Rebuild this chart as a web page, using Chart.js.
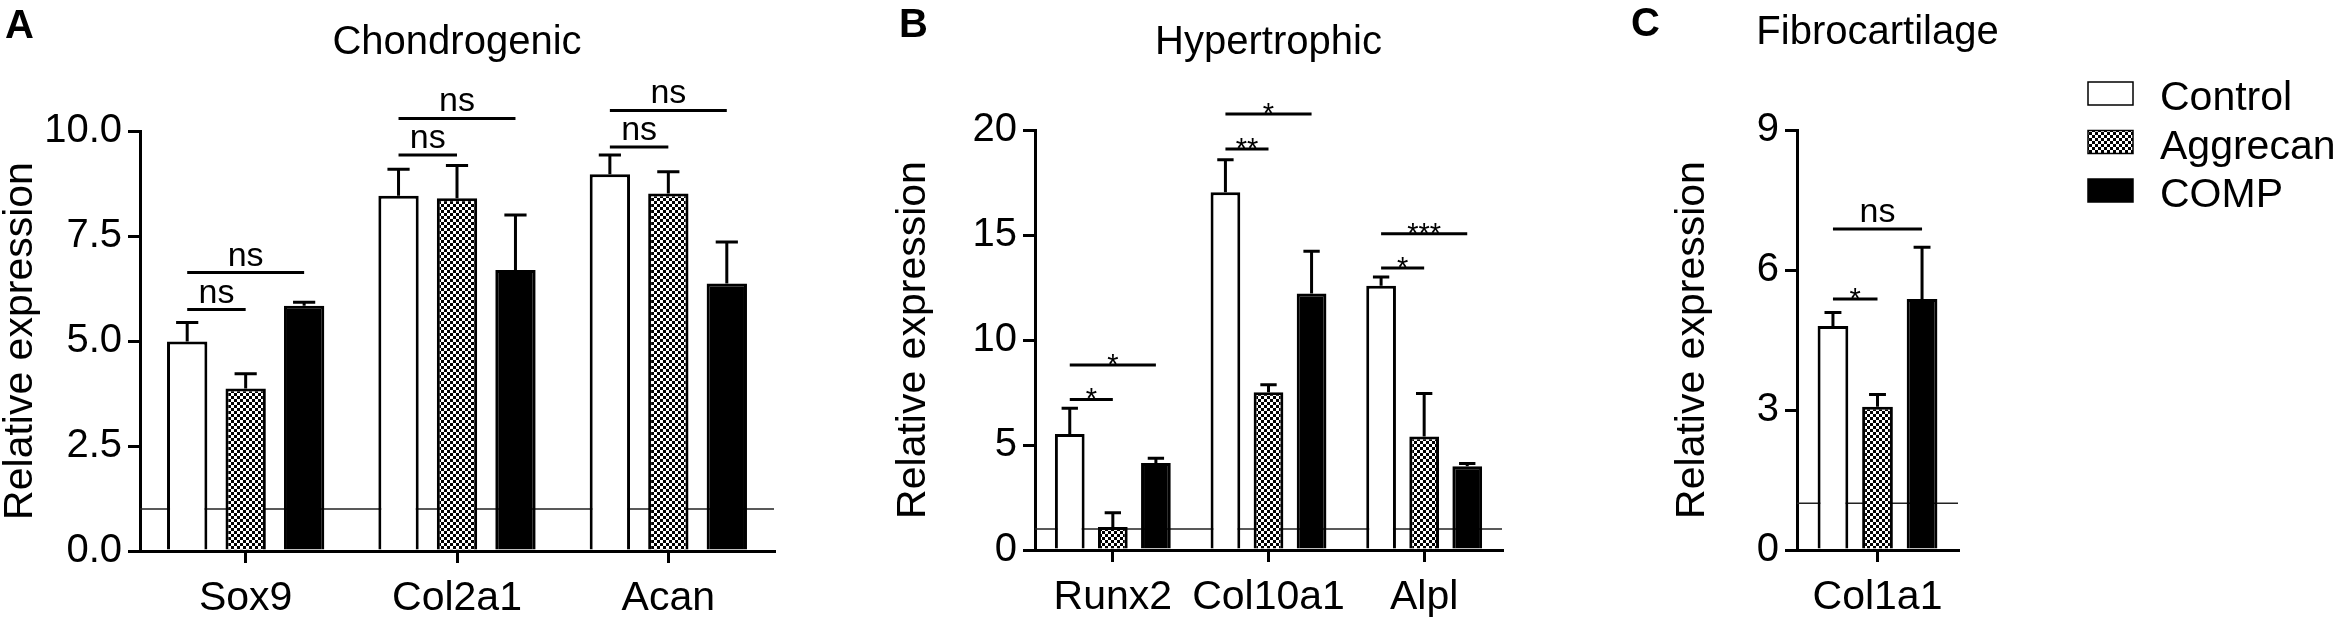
<!DOCTYPE html>
<html>
<head>
<meta charset="utf-8">
<script src="https://cdn.jsdelivr.net/npm/chart.js@4.4.1/dist/chart.umd.min.js"></script>
<style>
html, body { margin: 0; padding: 0; background: #fff; }
body { width: 2337px; height: 621px; position: relative; overflow: hidden; }
.panel { position: absolute; top: 0; height: 621px; }
</style>
</head>
<body>
<div class="panel" style="left:0;width:780px"><canvas id="chartA"></canvas></div>
<div class="panel" style="left:880px;width:640px"><canvas id="chartB"></canvas></div>
<div class="panel" style="left:1600px;width:737px"><canvas id="chartC"></canvas></div>
<script>
// groups
const groups = ["Control", "Aggrecan", "COMP"];

// A - chondrogenic
const genesA = ["Sox9", "Col2a1", "Acan"];
const controlA = [4.99, 8.46, 8.97];
const aggrecanA = [3.87, 8.40, 8.51];
const compA = [5.84, 6.69, 6.37];
const controlSdA = [0.45, 0.63, 0.46];
const aggrecanSdA = [0.35, 0.78, 0.52];
const compSdA = [0.08, 1.31, 0.99];
const ticksA = [0, 2.5, 5, 7.5, 10];
// [gene, from group, to group, height, label]
const sigA = [[0, 0, 1, 5.75, "ns"], [0, 0, 2, 6.63, "ns"],
              [1, 0, 1, 9.43, "ns"], [1, 0, 2, 10.3, "ns"],
              [2, 0, 1, 9.62, "ns"], [2, 0, 2, 10.49, "ns"]];

// B - hypertrophic
const genesB = ["Runx2", "Col10a1", "Alpl"];
const controlB = [5.52, 17.03, 12.58];
const aggrecanB = [1.10, 7.51, 5.40];
const compB = [4.14, 12.22, 3.99];
const controlSdB = [1.23, 1.55, 0.42];
const aggrecanSdB = [0.67, 0.36, 2.05];
const compSdB = [0.23, 2.01, 0.13];
const ticksB = [0, 5, 10, 15, 20];
const sigB = [[0, 0, 1, 7.17, "*"], [0, 0, 2, 8.81, "*"],
              [1, 0, 1, 19.1, "**"], [1, 0, 2, 20.76, "*"],
              [2, 0, 1, 13.43, "*"], [2, 0, 2, 15.06, "***"]];

// C - fibrocartilage
const genesC = ["Col1a1"];
const controlC = [4.80];
const aggrecanC = [3.07];
const compC = [5.38];
const controlSdC = [0.29];
const aggrecanSdC = [0.26];
const compSdC = [1.11];
const ticksC = [0, 3, 6, 9];
const sigC = [[0, 0, 1, 5.38, "*"], [0, 0, 2, 6.88, "ns"]];

const baseline = 1;

const FONT = '"Liberation Sans", Arial, sans-serif';
Chart.defaults.font.family = FONT;
Chart.defaults.color = "#000";

function checker() {
  const c = document.createElement("canvas");
  c.width = 6; c.height = 6;
  const g = c.getContext("2d");
  g.fillStyle = "#000"; g.fillRect(0, 0, 6, 6);
  g.fillStyle = "#fff"; g.fillRect(0, 0, 3, 3); g.fillRect(3, 3, 3, 3);
  return g.createPattern(c, "repeat");
}
const fills = ["#fff", checker(), "#000"];

function makeDecor(p) {
  return {
    id: "decor",
    beforeDatasetsDraw(chart) {
      const { ctx, chartArea: a, scales: { y } } = chart;
      const py = y.getPixelForValue(baseline);
      ctx.save();
      ctx.strokeStyle = "#222";
      ctx.lineWidth = 1.5;
      ctx.beginPath();
      ctx.moveTo(a.left, py);
      ctx.lineTo(a.right, py);
      ctx.stroke();
      ctx.restore();
    },
    afterDatasetsDraw(chart) {
      const { ctx, scales: { y } } = chart;
      ctx.save();
      ctx.strokeStyle = "#000";
      ctx.fillStyle = "#000";
      ctx.lineWidth = 3;
      // error bars (upper only)
      chart.data.datasets.forEach((ds, i) => {
        chart.getDatasetMeta(i).data.forEach((bar, j) => {
          const top = y.getPixelForValue(ds.data[j] + ds.sd[j]);
          const cw = bar.width * 0.55;
          ctx.beginPath();
          ctx.moveTo(bar.x, bar.y);
          ctx.lineTo(bar.x, top);
          ctx.moveTo(bar.x - cw / 2, top);
          ctx.lineTo(bar.x + cw / 2, top);
          ctx.stroke();
        });
      });
      // significance lines
      p.sig.forEach(([cat, g1, g2, v, text]) => {
        const x1 = chart.getDatasetMeta(g1).data[cat].x;
        const x2 = chart.getDatasetMeta(g2).data[cat].x;
        const py = y.getPixelForValue(v);
        ctx.beginPath();
        ctx.moveTo(x1, py);
        ctx.lineTo(x2, py);
        ctx.stroke();
        const star = text.includes("*");
        ctx.font = (star ? "29px " : "34px ") + FONT;
        ctx.textAlign = "center";
        ctx.textBaseline = "alphabetic";
        ctx.fillText(text, (x1 + x2) / 2, star ? py + 9 : py - 7);
      });
      ctx.restore();
    },
    afterDraw(chart) {
      const { ctx, chartArea: a } = chart;
      ctx.save();
      ctx.fillStyle = "#000";
      ctx.textBaseline = "alphabetic";
      ctx.textAlign = "center";
      ctx.font = "40px " + FONT;
      ctx.fillText(p.title, (a.left + a.right) / 2, p.titleY);
      ctx.textAlign = "left";
      ctx.font = "bold 40px " + FONT;
      ctx.fillText(p.letter, p.letterX, p.letterY);
      if (p.legend) {
        ctx.font = "41px " + FONT;
        chart.data.datasets.forEach((ds, i) => {
          const top = 82 + i * 48.5;
          ctx.fillStyle = ds.backgroundColor;
          ctx.fillRect(488, top, 45, 23);
          ctx.strokeStyle = "#000";
          ctx.lineWidth = 1.5;
          ctx.strokeRect(488, top, 45, 23);
          ctx.fillStyle = "#000";
          ctx.fillText(ds.label, 560, top + 28);
        });
      }
      ctx.restore();
    }
  };
}

function makeChart(id, p) {
  return new Chart(document.getElementById(id), {
    type: "bar",
    data: {
      labels: p.labels,
      datasets: groups.map((g, i) => ({
        label: g,
        data: p.values[i],
        sd: p.sds[i],
        backgroundColor: fills[i],
        borderColor: "#000",
        borderWidth: 3,
        categoryPercentage: 0.83,
        barPercentage: 0.69
      }))
    },
    options: {
      responsive: true,
      maintainAspectRatio: false,
      animation: false,
      layout: { padding: { left: p.padLeft, right: p.padRight, top: p.top, bottom: 0 } },
      plugins: { legend: { display: false }, tooltip: { enabled: false } },
      scales: {
        x: {
          offset: true,
          z: 1,
          grid: { offset: false, drawOnChartArea: false, drawTicks: true, tickLength: 12, lineWidth: 3, color: "#000" },
          border: { display: true, width: 3, color: "#000" },
          ticks: { font: { size: 41 }, padding: 11, maxRotation: 0, autoSkip: false },
          afterFit: s => { s.height = p.xHeight; }
        },
        y: {
          min: 0,
          max: p.ticks[p.ticks.length - 1],
          afterBuildTicks: s => { s.ticks = p.ticks.map(v => ({ value: v })); },
          grid: { drawOnChartArea: false, drawTicks: true, tickLength: 12, lineWidth: 3, color: "#000" },
          border: { display: true, width: 3, color: "#000" },
          ticks: { font: { size: 40 }, padding: 6, callback: v => p.decimals ? v.toFixed(1) : String(v) },
          title: { display: true, text: "Relative expression", font: { size: 41, lineHeight: 1 }, padding: 0 },
          afterFit: s => { s.width = p.yWidth; }
        }
      }
    },
    plugins: [makeDecor(p)]
  });
}

makeChart("chartA", {
  labels: genesA,
  values: [controlA, aggrecanA, compA],
  sds: [controlSdA, aggrecanSdA, compSdA],
  ticks: ticksA, decimals: true, sig: sigA,
  title: "Chondrogenic", titleY: 54, letter: "A", letterX: 5, letterY: 38,
  padLeft: 0, yWidth: 140, padRight: 6, top: 131, xHeight: 70
});

makeChart("chartB", {
  labels: genesB,
  values: [controlB, aggrecanB, compB],
  sds: [controlSdB, aggrecanSdB, compSdB],
  ticks: ticksB, decimals: false, sig: sigB,
  title: "Hypertrophic", titleY: 54, letter: "B", letterX: 19, letterY: 37,
  padLeft: 13.5, yWidth: 141.5, padRight: 18, top: 130, xHeight: 71
});

makeChart("chartC", {
  labels: genesC,
  values: [controlC, aggrecanC, compC],
  sds: [controlSdC, aggrecanSdC, compSdC],
  ticks: ticksC, decimals: false, sig: sigC,
  title: "Fibrocartilage", titleY: 44, letter: "C", letterX: 31, letterY: 36,
  padLeft: 72.5, yWidth: 124.5, padRight: 379, top: 130, xHeight: 71,
  legend: true
});
</script>
</body>
</html>
